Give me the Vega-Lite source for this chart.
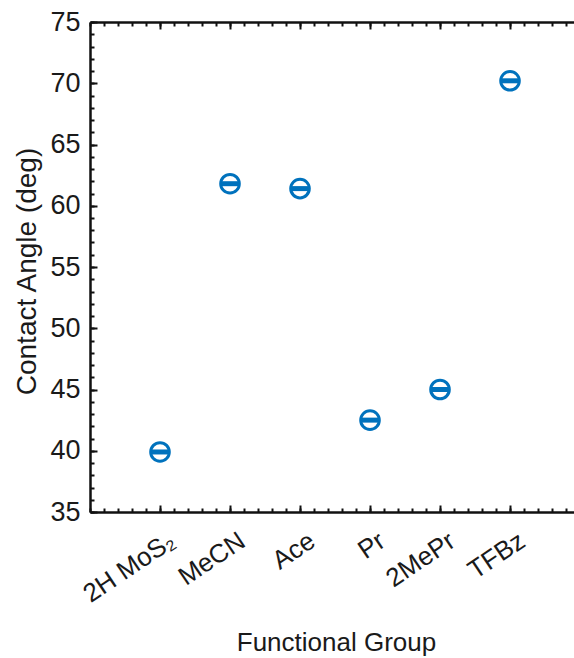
{
  "$schema": "https://vega.github.io/schema/vega-lite/v6.json",
  "autosize": {"type": "none"},
  "width": 484,
  "height": 490,
  "padding": {"left": 90, "top": 22, "right": 0, "bottom": 146},
  "background": "white",
  "config": {
    "view": {"stroke": null},
    "axis": {
      "labelFont": "Liberation Sans",
      "titleFont": "Liberation Sans",
      "labelColor": "#1a1a1a",
      "titleColor": "#1a1a1a",
      "titleFontWeight": "normal",
      "domainColor": "#111111",
      "tickColor": "#111111",
      "domainWidth": 2.5,
      "tickWidth": 2,
      "grid": false
    }
  },
  "data": {
    "values": [
      {"group": "2H MoS2", "pos": 1, "angle": 39.9},
      {"group": "MeCN", "pos": 2, "angle": 61.8},
      {"group": "Ace", "pos": 3, "angle": 61.4},
      {"group": "Pr", "pos": 4, "angle": 42.5},
      {"group": "2MePr", "pos": 5, "angle": 45.0},
      {"group": "TFBz", "pos": 6, "angle": 70.2}
    ]
  },
  "resolve": {"axis": {"x": "independent", "y": "independent"}},
  "layer": [
    {
      "mark": {"type": "point", "shape": "circle", "filled": false, "size": 346, "strokeWidth": 3, "color": "#0072BD", "opacity": 1},
      "encoding": {
        "x": {
          "field": "pos", "type": "quantitative",
          "scale": {"domain": [0, 6.914], "nice": false, "zero": false},
          "axis": {
            "orient": "bottom",
            "values": [1, 2, 3, 4, 5, 6],
            "labelExpr": "['', '2H MoS₂', 'MeCN', 'Ace', 'Pr', '2MePr', 'TFBz'][datum.value]",
            "ticks": false,
            "labelAngle": -34,
            "labelAlign": "right",
            "labelBaseline": "middle",
            "labelPadding": 26,
            "labelOffset": 12,
            "labelFontSize": 26,
            "labelBound": false,
            "labelOverlap": false,
            "title": "Functional Group",
            "titleFontSize": 26,
            "titleX": 246,
            "titleY": 138,
            "titleBaseline": "alphabetic",
            "titleAnchor": "middle",
            "zindex": 2
          }
        },
        "y": {
          "field": "angle", "type": "quantitative",
          "scale": {"domain": [35, 75], "nice": false, "zero": false},
          "axis": {
            "orient": "left",
            "values": [35, 40, 45, 50, 55, 60, 65, 70, 75],
            "ticks": false,
            "labelPadding": 10,
            "labelFontSize": 27,
            "title": "Contact Angle (deg)",
            "titleFontSize": 28,
            "titleAngle": -90,
            "titleX": -55,
            "titleY": 249,
            "titleBaseline": "alphabetic",
            "titleAlign": "center",
            "zindex": 2
          }
        }
      }
    },
    {
      "mark": {"type": "tick", "orient": "horizontal", "size": 17, "thickness": 5, "color": "#0072BD", "opacity": 1},
      "encoding": {
        "x": {
          "field": "pos", "type": "quantitative",
          "scale": {"domain": [0, 6.914], "nice": false, "zero": false},
          "axis": {
            "orient": "bottom",
            "values": [0, 0.2, 0.4, 0.6, 0.8, 1, 1.2, 1.4, 1.6, 1.8, 2, 2.2, 2.4, 2.6, 2.8, 3, 3.2, 3.4, 3.6, 3.8, 4, 4.2, 4.4, 4.6, 4.8, 5, 5.2, 5.4, 5.6, 5.8, 6, 6.2, 6.4, 6.6, 6.8],
            "offset": -4,
            "tickSize": 4,
            "labels": false,
            "domain": false,
            "title": null
          }
        },
        "y": {
          "field": "angle", "type": "quantitative",
          "scale": {"domain": [35, 75], "nice": false, "zero": false},
          "axis": {
            "orient": "left",
            "values": [35, 36, 37, 38, 39, 40, 41, 42, 43, 44, 45, 46, 47, 48, 49, 50, 51, 52, 53, 54, 55, 56, 57, 58, 59, 60, 61, 62, 63, 64, 65, 66, 67, 68, 69, 70, 71, 72, 73, 74, 75],
            "offset": -4,
            "tickSize": 4,
            "labels": false,
            "domain": false,
            "title": null
          }
        }
      }
    },
    {
      "mark": {"type": "point", "opacity": 0},
      "encoding": {
        "x": {
          "field": "pos", "type": "quantitative",
          "scale": {"domain": [0, 6.914], "nice": false, "zero": false},
          "axis": {
            "orient": "bottom",
            "values": [1, 2, 3, 4, 5, 6],
            "offset": -7,
            "tickSize": 7,
            "labels": false,
            "domain": false,
            "title": null
          }
        },
        "y": {
          "field": "angle", "type": "quantitative",
          "scale": {"domain": [35, 75], "nice": false, "zero": false},
          "axis": {
            "orient": "left",
            "values": [35, 40, 45, 50, 55, 60, 65, 70, 75],
            "offset": -7,
            "tickSize": 7,
            "labels": false,
            "domain": false,
            "title": null
          }
        }
      }
    },
    {
      "mark": {"type": "point", "opacity": 0},
      "encoding": {
        "x": {
          "field": "pos", "type": "quantitative",
          "scale": {"domain": [0, 6.914], "nice": false, "zero": false},
          "axis": {
            "orient": "top",
            "values": [1, 2, 3, 4, 5, 6],
            "offset": -7,
            "tickSize": 7,
            "labels": false,
            "domain": false,
            "title": null
          }
        },
        "y": {"field": "angle", "type": "quantitative", "scale": {"domain": [35, 75], "nice": false, "zero": false}, "axis": null}
      }
    },
    {
      "mark": {"type": "point", "opacity": 0},
      "encoding": {
        "x": {
          "field": "pos", "type": "quantitative",
          "scale": {"domain": [0, 6.914], "nice": false, "zero": false},
          "axis": {
            "orient": "top",
            "values": [0, 0.2, 0.4, 0.6, 0.8, 1, 1.2, 1.4, 1.6, 1.8, 2, 2.2, 2.4, 2.6, 2.8, 3, 3.2, 3.4, 3.6, 3.8, 4, 4.2, 4.4, 4.6, 4.8, 5, 5.2, 5.4, 5.6, 5.8, 6, 6.2, 6.4, 6.6, 6.8],
            "offset": -4,
            "tickSize": 4,
            "labels": false,
            "domain": false,
            "title": null
          }
        },
        "y": {"field": "angle", "type": "quantitative", "scale": {"domain": [35, 75], "nice": false, "zero": false}, "axis": null}
      }
    },
    {
      "mark": {"type": "point", "opacity": 0},
      "encoding": {
        "x": {
          "field": "pos", "type": "quantitative",
          "scale": {"domain": [0, 6.914], "nice": false, "zero": false},
          "axis": {
            "orient": "top",
            "ticks": false,
            "labels": false,
            "domain": true,
            "title": null,
            "zindex": 2
          }
        },
        "y": {"field": "angle", "type": "quantitative", "scale": {"domain": [35, 75], "nice": false, "zero": false}, "axis": null}
      }
    }
  ]
}
